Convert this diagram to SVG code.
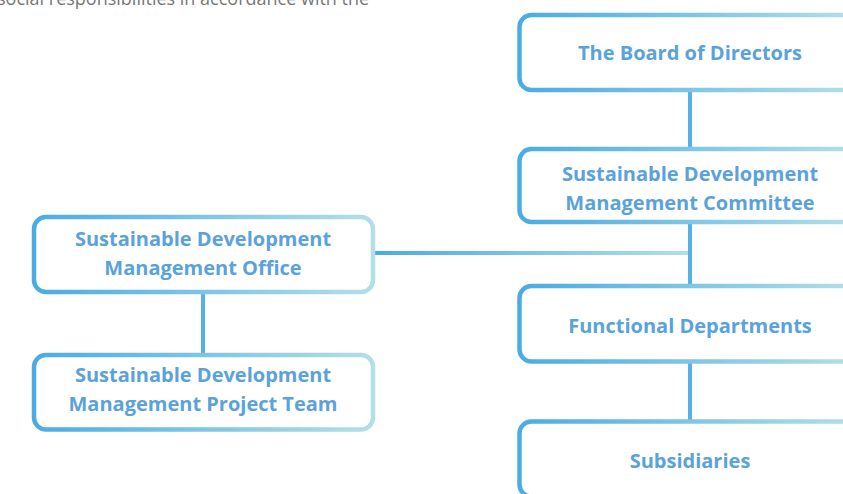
<svg xmlns="http://www.w3.org/2000/svg" width="843" height="494" viewBox="0 0 843 494">
<defs>
<linearGradient id="boxGrad" x1="0" y1="0" x2="1" y2="0">
<stop offset="0" stop-color="#4AACE3"/>
<stop offset="1" stop-color="#B3DFE7"/>
</linearGradient>
<linearGradient id="hGrad" gradientUnits="userSpaceOnUse" x1="376" y1="0" x2="690" y2="0">
<stop offset="0" stop-color="#4AACE3"/>
<stop offset="1" stop-color="#B3DFE7"/>
</linearGradient>
<style>
.box{fill:#fff;stroke:url(#boxGrad);stroke-width:4.5}
.lbl{font-family:"Open Sans","Noto Sans","Liberation Sans",sans-serif;font-weight:bold;font-size:20px;fill:#5AA2DB;text-anchor:middle}
.vline{stroke:#55B1E6;stroke-width:4}
.top{font-family:"Open Sans","Noto Sans","Liberation Sans",sans-serif;font-size:18px;fill:#777}
</style>
</defs>
<text class="top" x="-3" y="5">social responsibilities in accordance with the</text>
<g id="connectors">
<line class="vline" x1="690" y1="92" x2="690" y2="148"/>
<line class="vline" x1="690" y1="224" x2="690" y2="285"/>
<line class="vline" x1="690" y1="363" x2="690" y2="420"/>
<line class="vline" x1="203" y1="294" x2="203" y2="354"/>
<line x1="375" y1="253" x2="688" y2="253" stroke="url(#hGrad)" stroke-width="4"/>
</g>
<g id="board">
<rect class="box" x="519.5" y="15" width="339" height="75" rx="12"/>
<text class="lbl" x="690" y="59.5">The Board of Directors</text>
</g>
<g id="committee">
<rect class="box" x="519.5" y="149" width="339" height="73" rx="12"/>
<text class="lbl" x="690" y="181">Sustainable Development</text>
<text class="lbl" x="690" y="210">Management Committee</text>
</g>
<g id="functional">
<rect class="box" x="519.5" y="286" width="339" height="75.5" rx="12"/>
<text class="lbl" x="690" y="332.5">Functional Departments</text>
</g>
<g id="subsidiaries">
<rect class="box" x="519.5" y="421.5" width="339" height="75" rx="12"/>
<text class="lbl" x="690" y="467.5">Subsidiaries</text>
</g>
<g id="office">
<rect class="box" x="34" y="217" width="339" height="75" rx="12"/>
<text class="lbl" x="203" y="246">Sustainable Development</text>
<text class="lbl" x="203" y="275">Management Office</text>
</g>
<g id="team">
<rect class="box" x="34" y="355" width="339" height="74.5" rx="12"/>
<text class="lbl" x="203" y="382">Sustainable Development</text>
<text class="lbl" x="203" y="411">Management Project Team</text>
</g>
</svg>
